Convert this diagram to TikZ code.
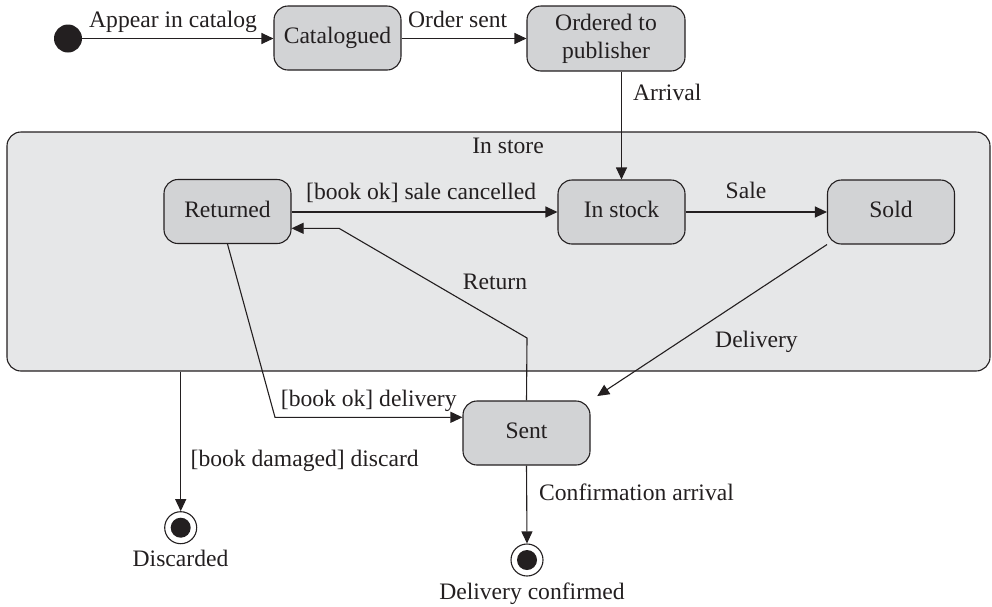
\documentclass[tikz,border=0pt]{standalone}
\usepackage{fontspec}
\setmainfont{Liberation Serif}
\usetikzlibrary{arrows.meta,calc}
\definecolor{ink}{HTML}{231F20}
\definecolor{boxfill}{HTML}{D2D3D5}
\definecolor{storefill}{HTML}{E6E7E8}
\tikzset{
  every node/.style={font=\fontsize{23.6}{28}\selectfont, text=ink},
  statebox/.style={draw=ink, line width=1.1pt, fill=boxfill, rounded corners=14pt,
    minimum width=127pt, minimum height=64pt, inner sep=0pt, text height=16pt, text depth=5pt},
  arr/.style={draw=ink, line width=1.1pt, -{Triangle[length=12pt,width=11pt]}},
  lbl/.style={anchor=base west, inner sep=0pt},
  clbl/.style={anchor=base, inner sep=0pt},
  initdot/.style={circle, fill=ink, minimum size=28pt, inner sep=0pt},
  finaldot/.style={circle, draw=ink, line width=1.1pt, fill=white, minimum size=32pt, inner sep=0pt,
    path picture={\fill[ink] (path picture bounding box.center) circle (10pt);}}
}
\begin{document}
\begin{tikzpicture}[x=1pt,y=-1pt]
\useasboundingbox (0,0) rectangle (992,606);
% container
\node[draw=ink, line width=1.1pt, fill=storefill, rounded corners=14pt,
  minimum width=983pt, minimum height=239pt, inner sep=0pt] (store) at (498.5,251.5) {};
\node[clbl] (storelbl) at (508,153) {In store};
% states
\node[initdot] (init) at (68,38.5) {};
\node[statebox] (cat) at (337.5,38) {Catalogued};
\node[statebox, minimum width=158pt, minimum height=65pt, align=center, text height=, text depth=] (ord) at (606,38.5) {Ordered to\\publisher};
\node[statebox] (ret) at (227.5,211.5) {Returned};
\node[statebox] (stock) at (621.5,212) {In stock};
\node[statebox] (sold) at (891,212) {Sold};
\node[statebox] (sent) at (526.5,433) {Sent};
\node[finaldot] (discd) at (180.7,527.7) {};
\node[finaldot] (dconf) at (527,560) {};
% helper coordinates
\coordinate (rb1) at (527,338);
\coordinate (rb2) at (339,228.3);
\coordinate (rs) at (275,417.3);
% connectors
\draw[arr] (init) -- (init -| cat.west);
\draw[arr] (cat.east |- 0,38.5) -- (ord.west |- 0,38.5);
\draw[arr] (ord.south -| stock.north) -- (stock.north);
\draw[arr] (ret.east |- stock.west) -- (stock.west);
\draw[arr] (stock.east) -- (sold.west);
\draw[arr, shorten >=8pt] (sold.south west) -- (sent.north east);
\draw[arr] (sent.north) -- (rb1) -- (rb2) -- (rb2 -| ret.east);
\draw[arr] (ret.south) -- (rs) -- (rs -| sent.west);
\draw[arr] (store.south -| discd) -- (discd.north);
\draw[arr] (sent.south) -- (dconf.north);
% labels
\node[lbl] (l1) at (89,27) {Appear in catalog};
\node[lbl] (l2) at (408,27) {Order sent};
\node[lbl] (l3) at (633,100) {Arrival};
\node[lbl] (l4) at (306,199) {[book ok] sale cancelled};
\node[clbl] (l5) at (746,198) {Sale};
\node[lbl] (l6) at (462.7,289) {Return};
\node[lbl] (l7) at (715,347) {Delivery};
\node[lbl] (l8) at (280.7,406) {[book ok] delivery};
\node[lbl] (l9) at (190.5,466) {[book damaged] discard};
\node[lbl] (l10) at (539,500) {Confirmation arrival};
\node[clbl] (l11) at (180.5,566.7) {Discarded};
\node[clbl] (l12) at (532,599) {Delivery confirmed};
\end{tikzpicture}
\end{document}
